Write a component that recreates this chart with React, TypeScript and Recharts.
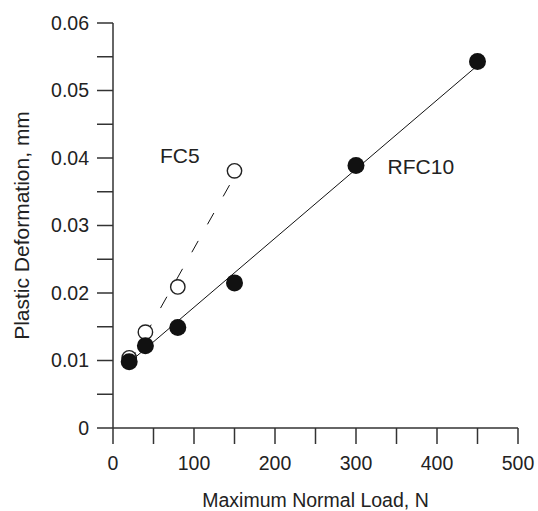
import { ScatterChart, Scatter, XAxis, YAxis } from "recharts";

// measured points
const rfc10 = [
  { x: 20, y: 0.0098 },
  { x: 40, y: 0.0122 },
  { x: 80, y: 0.0149 },
  { x: 150, y: 0.0215 },
  { x: 300, y: 0.0389 },
  { x: 450, y: 0.0543 },
];
const fc5 = [
  { x: 20, y: 0.0104 },
  { x: 40, y: 0.0142 },
  { x: 80, y: 0.0209 },
  { x: 150, y: 0.0381 },
];

// fitted lines (end points)
const rfc10Fit = [
  { x: 20, y: 0.0097 },
  { x: 450, y: 0.0537 },
];
const fc5Fit = [
  { x: 20, y: 0.0095 },
  { x: 150, y: 0.0373 },
];

const seriesLabels = [
  { x: 58, y: 0.0392, text: "FC5" },
  { x: 339, y: 0.0376, text: "RFC10" },
];

const xTicks = [0, 50, 100, 150, 200, 250, 300, 350, 400, 450, 500];
const yTicks = [0, 0.005, 0.01, 0.015, 0.02, 0.025, 0.03, 0.035, 0.04, 0.045, 0.05, 0.055, 0.06];

const FONT = "'Liberation Sans', Arial, sans-serif";
const AXIS = "#333";

const fmtX = (v: number) => (v % 100 === 0 ? String(v) : "");
const fmtY = (v: number) => {
  const k = Math.round(v * 1000);
  if (k % 10 !== 0) return "";
  return k === 0 ? "0" : v.toFixed(2);
};

const Filled = (p: any) => <circle cx={p.cx} cy={p.cy} r={8.5} fill="#111" />;
const Hollow = (p: any) => (
  <circle cx={p.cx} cy={p.cy} r={7.2} fill="#fff" stroke="#222" strokeWidth={1.4} />
);
const Nothing = () => <g />;
const TextMark = (p: any) => (
  <text x={p.cx} y={p.cy} fontSize={21} fontFamily={FONT} fill="#222">
    {p.payload.text}
  </text>
);

const YLabel = (props: any) => {
  const { viewBox } = props;
  const cx = 21;
  const cy = viewBox.y + viewBox.height / 2;
  return (
    <text
      x={cx}
      y={cy}
      transform={`rotate(-90, ${cx}, ${cy})`}
      textAnchor="middle"
      dominantBaseline="central"
      fontSize={21}
      fontFamily={FONT}
      fill="#222"
    >
      Plastic Deformation, mm
    </text>
  );
};

const XLabel = (props: any) => {
  const { viewBox } = props;
  return (
    <text
      x={viewBox.x + viewBox.width / 2}
      y={507}
      textAnchor="middle"
      fontSize={19.5}
      fontFamily={FONT}
      fill="#222"
    >
      Maximum Normal Load, N
    </text>
  );
};

export default function App() {
  return (
    <div style={{ position: "absolute", left: 0, top: 0, background: "#fff" }}>
      <ScatterChart width={538} height={511} margin={{ top: 23, right: 20, bottom: 0, left: 0 }}>
        <XAxis
          type="number"
          dataKey="x"
          domain={[0, 500]}
          ticks={xTicks}
          interval={0}
          tickFormatter={fmtX}
          height={83}
          tickSize={16}
          tickMargin={12}
          stroke={AXIS}
          strokeWidth={1.5}
          tick={{ fill: "#222", fontSize: 19.5, fontFamily: FONT }}
          label={<XLabel />}
        />
        <YAxis
          type="number"
          dataKey="y"
          domain={[0, 0.06]}
          ticks={yTicks}
          interval={0}
          tickFormatter={fmtY}
          width={113}
          tickSize={16}
          tickMargin={8}
          stroke={AXIS}
          strokeWidth={1.5}
          tick={{ fill: "#222", fontSize: 19.5, fontFamily: FONT }}
          label={<YLabel />}
        />
        <Scatter
          data={fc5Fit}
          line={{ stroke: "#111", strokeWidth: 1, strokeDasharray: "13 19" }}
          lineType="joint"
          shape={<Nothing />}
          isAnimationActive={false}
        />
        <Scatter
          data={rfc10Fit}
          line={{ stroke: "#111", strokeWidth: 1 }}
          lineType="joint"
          shape={<Nothing />}
          isAnimationActive={false}
        />
        <Scatter data={fc5} shape={<Hollow />} isAnimationActive={false} />
        <Scatter data={rfc10} shape={<Filled />} isAnimationActive={false} />
        <Scatter data={seriesLabels} shape={<TextMark />} isAnimationActive={false} />
      </ScatterChart>
    </div>
  );
}
